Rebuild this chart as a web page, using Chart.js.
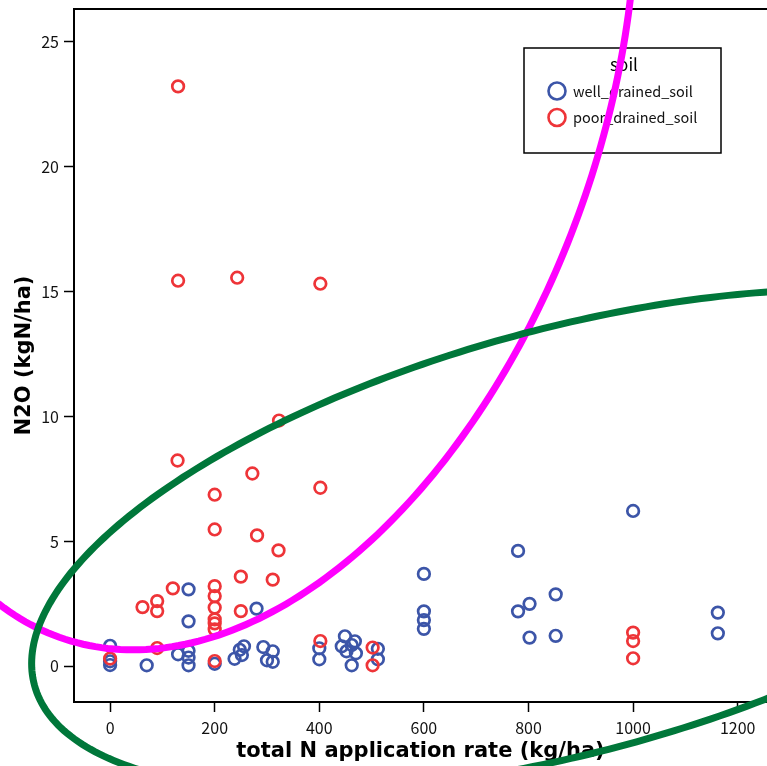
<!DOCTYPE html>
<html>
<head>
<meta charset="utf-8">
<script src="https://cdn.jsdelivr.net/npm/chart.js@4.4.1/dist/chart.umd.min.js"></script>
<style>
  body { margin: 0; background: #fff; }
</style>
</head>
<body>
<canvas id="n2oChart" width="767" height="766"></canvas>
<script>
// well drained soil
const wellX = [0, 0, 0, 70, 130, 150, 150, 150, 150, 150, 200, 238, 248, 256, 252, 280,
  293, 300, 311, 311, 400, 400, 449, 443, 452, 468, 470, 462, 462, 512, 512,
  600, 600, 600, 600, 780, 780, 802, 802, 852, 852, 1000, 1162, 1162];
const wellY = [0.82, 0.2, 0.05, 0.04, 0.48, 3.08, 1.8, 0.62, 0.35, 0.04, 0.1, 0.3, 0.66, 0.8, 0.45, 2.31,
  0.77, 0.24, 0.6, 0.18, 0.72, 0.28, 1.2, 0.8, 0.6, 1.0, 0.52, 0.04, 0.85, 0.7, 0.28,
  3.7, 2.2, 1.85, 1.5, 4.62, 2.2, 2.5, 1.15, 2.88, 1.22, 6.22, 2.15, 1.32];

// poor drained soil
const poorX = [130, 130, 243, 402, 323, 129, 272, 402, 200, 200, 281, 322, 250, 311, 120,
  200, 200, 200, 200, 200, 200, 200, 62, 90, 90, 250, 90, 0, 402, 502, 502, 1000, 1000, 1000];
const poorY = [23.22, 15.44, 15.56, 15.32, 9.84, 8.24, 7.72, 7.15, 6.87, 5.48, 5.24, 4.64, 3.59, 3.47, 3.12,
  3.21, 2.81, 2.35, 1.88, 1.72, 1.48, 0.21, 2.37, 2.61, 2.21, 2.21, 0.73, 0.31, 1.01, 0.75, 0.04, 1.35, 1.01, 0.32];

const xTicks = [0, 200, 400, 600, 800, 1000, 1200];
const yTicks = [0, 5, 10, 15, 20, 25];

// hand drawn ellipses, in data units: centre + two conjugate half axes
const magentaEllipse = { c: [269, 23.66], u: [225, 23.0], v: [702, 0] };
const greenEllipse = { c: [881, 5.05], u: [1031, 4.94], v: [0, -8.74] };

const FONT = '"Noto Sans CJK JP", "Noto Sans", sans-serif';
const TITLE_FONT = '"DejaVu Sans", sans-serif';

function toPoints(xs, ys) {
  return xs.map((x, i) => ({ x: x, y: ys[i] }));
}

const extras = {
  id: 'extras',
  afterDraw(chart) {
    const ctx = chart.ctx;
    const area = chart.chartArea;
    const xs = chart.scales.x;
    const ys = chart.scales.y;
    ctx.save();

    // top frame line
    ctx.strokeStyle = '#000';
    ctx.lineWidth = 2;
    ctx.beginPath();
    ctx.moveTo(area.left - 1, area.top);
    ctx.lineTo(area.right, area.top);
    ctx.stroke();

    // legend box
    const lx = 524, ly = 48, lw = 197, lh = 105;
    ctx.fillStyle = '#fff';
    ctx.fillRect(lx, ly, lw, lh);
    ctx.lineWidth = 1.5;
    ctx.strokeRect(lx, ly, lw, lh);
    ctx.fillStyle = '#000';
    ctx.textAlign = 'center';
    ctx.textBaseline = 'middle';
    ctx.font = '17px ' + FONT;
    ctx.fillText('soil', 624, 65);
    ctx.textAlign = 'left';
    ctx.font = '14.5px ' + FONT;
    chart.data.datasets.forEach((ds, i) => {
      const cy = 91 + i * 26.5;
      ctx.beginPath();
      ctx.arc(557, cy, 8.5, 0, Math.PI * 2);
      ctx.strokeStyle = ds.borderColor;
      ctx.lineWidth = 2.6;
      ctx.stroke();
      ctx.fillStyle = '#111';
      ctx.fillText(ds.label, 573, cy);
    });

    // ellipses on top of everything
    [[magentaEllipse, '#ff00ff'], [greenEllipse, '#00773a']].forEach(([e, color]) => {
      ctx.beginPath();
      for (let k = 0; k <= 360; k++) {
        const t = k * Math.PI / 180;
        const dx = e.c[0] + e.u[0] * Math.cos(t) + e.v[0] * Math.sin(t);
        const dy = e.c[1] + e.u[1] * Math.cos(t) + e.v[1] * Math.sin(t);
        const px = xs.getPixelForValue(dx);
        const py = ys.getPixelForValue(dy);
        if (k === 0) ctx.moveTo(px, py); else ctx.lineTo(px, py);
      }
      ctx.closePath();
      ctx.strokeStyle = color;
      ctx.lineWidth = 7;
      ctx.stroke();
    });
    ctx.restore();
  }
};

new Chart(document.getElementById('n2oChart'), {
  type: 'scatter',
  data: {
    datasets: [
      {
        label: 'well_drained_soil',
        data: toPoints(wellX, wellY),
        borderColor: '#3c55a8',
        backgroundColor: 'rgba(0,0,0,0)',
        pointRadius: 5.8,
        pointBorderWidth: 2.7,
        order: 1
      },
      {
        label: 'poor_drained_soil',
        data: toPoints(poorX, poorY),
        borderColor: '#ee3438',
        backgroundColor: 'rgba(0,0,0,0)',
        pointRadius: 5.8,
        pointBorderWidth: 2.7,
        order: 0
      }
    ]
  },
  plugins: [extras],
  options: {
    responsive: false,
    animation: false,
    layout: { autoPadding: false, padding: { top: 9, right: 0, left: 0, bottom: 0 } },
    plugins: { legend: { display: false }, tooltip: { enabled: false } },
    scales: {
      x: {
        type: 'linear',
        min: -69,
        max: 1256,
        afterBuildTicks: s => { s.ticks = xTicks.map(v => ({ value: v })); },
        afterFit: s => { s.height = 64; s.paddingLeft = 0; s.paddingRight = 0; },
        grid: { drawOnChartArea: false, tickLength: 10, tickWidth: 1.5, tickColor: '#000' },
        border: { color: '#000', width: 2 },
        ticks: { font: { family: FONT, size: 16 }, color: '#111', padding: 6, maxRotation: 0,
          callback: v => String(v) },
        title: {
          display: true,
          text: 'total N application rate (kg/ha)',
          font: { family: TITLE_FONT, size: 21, weight: 'bold' },
          color: '#000',
          padding: { top: 0, bottom: 1.4 }
        }
      },
      y: {
        type: 'linear',
        min: -1.43,
        max: 26.32,
        afterBuildTicks: s => { s.ticks = yTicks.map(v => ({ value: v })); },
        afterFit: s => { s.width = 74; s.paddingTop = 0; s.paddingBottom = 0; },
        grid: { drawOnChartArea: false, tickLength: 10, tickWidth: 1.5, tickColor: '#000' },
        border: { color: '#000', width: 2 },
        ticks: { font: { family: FONT, size: 16 }, color: '#111', padding: 5,
          callback: v => String(v) },
        title: {
          display: true,
          text: 'N2O (kgN/ha)',
          font: { family: TITLE_FONT, size: 21, weight: 'bold' },
          color: '#000',
          padding: { top: 12.4, bottom: 0 }
        }
      }
    }
  }
});
</script>
</body>
</html>
